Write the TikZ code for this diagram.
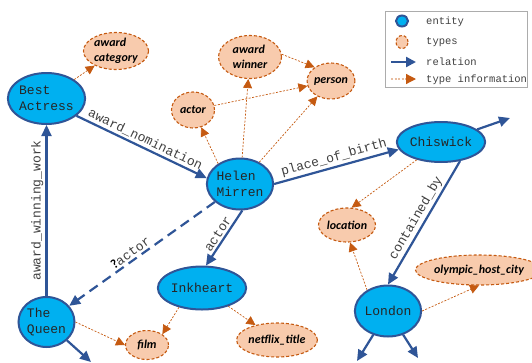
\documentclass[tikz,border=0pt]{standalone}
\usepackage{fontspec}
\setmonofont{Liberation Mono}
\newfontfamily\typefont{Carlito}
\usetikzlibrary{shapes.geometric}
\usetikzlibrary{arrows.meta}
\usetikzlibrary{positioning}

\definecolor{entityfill}{HTML}{00B0F0}
\definecolor{entityline}{HTML}{2F5597}
\definecolor{typefill}{HTML}{F8CBAD}
\definecolor{typeline}{HTML}{C55A11}
\definecolor{labelgray}{HTML}{404040}

\begin{document}
\begin{tikzpicture}[x=1pt, y=-1pt,
  entity/.style={ellipse, draw=entityline, fill=entityfill, line width=2pt,
    inner sep=0pt, align=left, text=black!85,
    font=\ttfamily\fontsize{13}{16}\selectfont},
  types/.style={ellipse, draw=typeline, fill=typefill, line width=1.1pt,
    dash pattern=on 3pt off 2pt, inner sep=0pt, align=left,
    font=\typefont\bfseries\itshape\fontsize{12}{15}\selectfont},
  relation/.style={draw=entityline, line width=2.2pt,
    -{Triangle[length=11pt, width=10pt]}},
  typeinfo/.style={draw=typeline, line width=0.7pt, dash pattern=on 2pt off 1.5pt,
    -{Triangle[length=9pt, width=9pt]}},
  rellabel/.style={sloped, above, inner sep=2pt, text=labelgray,
    font=\ttfamily\fontsize{13}{15}\selectfont},
  legtext/.style={anchor=west, inner sep=0pt, text=labelgray,
    font=\ttfamily\fontsize{10.5}{12}\selectfont}]

  % Fix the page size
  \useasboundingbox (0,0) rectangle (532,362);

  % Draw the entities
  \node[entity, minimum width=70pt, minimum height=51pt] (best) at (46.5,98.5) {Best\\Actress};
  \node[entity, minimum width=63pt, minimum height=51pt] (helen) at (240,184) {Helen\\Mirren};
  \node[entity, minimum width=73pt, minimum height=40pt] (chiswick) at (441,142) {Chiswick};
  \node[entity, minimum width=75pt, minimum height=43pt] (inkheart) at (202,288) {Inkheart};
  \node[entity, minimum width=56pt, minimum height=50pt] (queen) at (46.5,322) {The\\Queen};
  \node[entity, minimum width=57pt, minimum height=51pt] (london) at (388,311) {London};

  % Draw the types
  \node[types, minimum width=65pt, minimum height=37pt] (awardcat) at (116,51) {award\\category};
  \node[types, minimum width=63pt, minimum height=43pt] (awardwin) at (250,57) {award\\winner};
  \node[types, minimum width=43pt, minimum height=36pt] (person) at (331,81) {person};
  \node[types, minimum width=43pt, minimum height=36pt] (actortype) at (193,110) {actor};
  \node[types, minimum width=43pt, minimum height=29pt] (film) at (147,345) {film};
  \node[types, minimum width=70pt, minimum height=34pt] (netflix) at (277,340) {netflix\_title};
  \node[types, minimum width=57pt, minimum height=34pt] (location) at (347,225) {location};
  \node[types, minimum width=103pt, minimum height=30pt] (olympic) at (479,270) {olympic\_host\_city};

  % Free ends of relations leaving the picture
  \coordinate (chisout) at (510,118);
  \coordinate (queenout) at (91,362);
  \coordinate (londonoutA) at (357,361);
  \coordinate (londonoutB) at (418,358);

  % Draw the relations
  \draw[relation] (best.-30) -- node[rellabel] {award\_nomination} (helen.170);
  \draw[relation] (queen.north) -- node[rellabel] {award\_winning\_work} (best.south);
  \draw[relation] (helen.east) -- node[rellabel] {place\_of\_birth} (chiswick.190);
  \draw[relation] (helen.-85) -- node[rellabel] {actor} (inkheart.80);
  \draw[relation, dash pattern=on 10pt off 6pt] (helen) --
    node[rellabel, pos=0.55] {{\typefont\bfseries\color{black}?}actor} (queen);
  \draw[relation] (chiswick.-45) -- node[rellabel] {contained\_by} (london.north);
  \draw[relation] (chiswick) -- (chisout);
  \draw[relation] (queen) -- (queenout);
  \draw[relation] (london) -- (londonoutA);
  \draw[relation] (london) -- (londonoutB);

  % Draw the type information
  \draw[typeinfo] (best) -- (awardcat);
  \draw[typeinfo] (helen.137) -- (actortype);
  \draw[typeinfo] (helen) -- (awardwin);
  \draw[typeinfo] (helen) -- (person);
  \draw[typeinfo] (actortype) -- (person);
  \draw[typeinfo] (awardwin.5) -- (person.140);
  \draw[typeinfo] (chiswick) -- (location.75);
  \draw[typeinfo] (london.135) -- (location.-80);
  \draw[typeinfo] (london.east) -- (olympic.south);
  \draw[typeinfo] (queen.east) -- (film.west);
  \draw[typeinfo] (inkheart.-140) -- (film.35);
  \draw[typeinfo] (inkheart) -- (netflix);

  % Draw the legend
  \node[draw=gray!65, line width=1.5pt, minimum width=142pt, minimum height=76pt,
    inner sep=0pt] (legend) at (456.5,49.5) {};
  \node[entity, minimum width=12pt, minimum height=11pt] (legentity) at (402,21) {};
  \node[types, minimum width=12pt, minimum height=13pt] (legtypes) at (402,42) {};
  \coordinate (legrelA) at (391,62);
  \coordinate (legrelB) at (416,62);
  \coordinate (legtypA) at (391,79);
  \coordinate (legtypB) at (416,79);
  \draw[relation, -{Triangle[length=10pt, width=10pt]}] (legrelA) -- (legrelB);
  \draw[typeinfo, draw=typeline!40, line width=1.2pt,
    -{Triangle[length=10pt, width=10pt, color=typeline]}] (legtypA) -- (legtypB);
  \node[legtext] (labentity) at (426,22) {entity};
  \node[legtext] (labtypes) at (426,42) {types};
  \node[legtext] (labrelation) at (426,62) {relation};
  \node[legtext] (labtypeinfo) at (426,80) {type information};

\end{tikzpicture}
\end{document}
